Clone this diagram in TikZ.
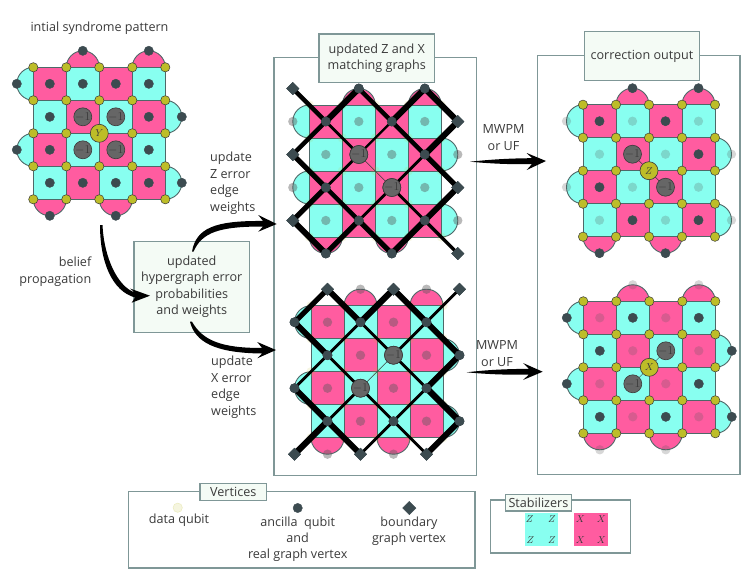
\documentclass[tikz,border=0pt]{standalone}
\usepackage{fontspec}
\setmainfont{Open Sans}
\usetikzlibrary{shapes.geometric}
\definecolor{pinkf}{HTML}{FF5CA0}
\definecolor{cyanf}{HTML}{88FFF0}
\definecolor{gridc}{HTML}{4E6868}
\definecolor{boxc}{HTML}{7F9797}
\definecolor{boxf}{HTML}{F4FBF5}
\definecolor{olive}{HTML}{BDBD28}
\definecolor{slate}{HTML}{3C4B50}
\definecolor{inkc}{HTML}{3A3A3A}
\tikzset{
  panelbox/.style={draw=boxc,line width=1.2pt},
  titlebox/.style={draw=boxc,line width=1.2pt,fill=boxf},
  gridline/.style={draw=gridc,line width=.9pt},
  dataq/.style={circle,draw=inkc,line width=.5pt,fill=olive,inner sep=0,minimum size=9.3pt},
  datafade/.style={circle,fill=olive,opacity=.13,inner sep=0,minimum size=9.3pt},
  ancdark/.style={circle,draw=slate,line width=.4pt,fill=slate,inner sep=0,minimum size=9.3pt},
  ancfade/.style={circle,fill=black!65,opacity=.24,inner sep=0,minimum size=9.3pt},
  bound/.style={diamond,aspect=1,draw=slate,line width=.4pt,fill=slate,inner sep=0,minimum size=12.5pt},
  minusone/.style={circle,draw=inkc,line width=.6pt,fill=black!60,text=inkc,inner sep=0,minimum size=18pt,font=\large},
  errq/.style={circle,draw=inkc,line width=.6pt,fill=olive,text=inkc,inner sep=0,minimum size=18pt},
  lbl/.style={text=inkc,align=center,inner sep=0,font=\fontsize{12.6}{16.4}\selectfont},
  lblleft/.style={lbl,align=left},
  stab/.style={text=inkc,inner sep=0,font=\normalsize},
  arrowfill/.style={fill=black,draw=none},
  link/.style={draw=black},
  thinlink/.style={draw=inkc,line width=.5pt}
}
\newcommand\faces{%
  \foreach \c in {1,3}{\draw[gridline,fill=pinkf] (\c,0) .. controls (\c,-.276) and ({\c+.224},-.5) .. ({\c+.5},-.5) .. controls ({\c+.776},-.5) and ({\c+1},-.276) .. ({\c+1},0);}
  \foreach \c in {0,2}{\draw[gridline,fill=pinkf] (\c,4) .. controls (\c,4.276) and ({\c+.224},4.5) .. ({\c+.5},4.5) .. controls ({\c+.776},4.5) and ({\c+1},4.276) .. ({\c+1},4);}
  \foreach \r in {0,2}{\draw[gridline,fill=cyanf] (0,\r) .. controls (-.276,\r) and (-.5,{\r+.224}) .. (-.5,{\r+.5}) .. controls (-.5,{\r+.776}) and (-.276,{\r+1}) .. (0,{\r+1});}
  \foreach \r in {1,3}{\draw[gridline,fill=cyanf] (4,\r) .. controls (4.276,\r) and (4.5,{\r+.224}) .. (4.5,{\r+.5}) .. controls (4.5,{\r+.776}) and (4.276,{\r+1}) .. (4,{\r+1});}
  \foreach \r in {0,...,3}{\foreach \c in {0,...,3}{%
    \ifodd\numexpr\r+\c\relax\def\fc{cyanf}\else\def\fc{pinkf}\fi
    \draw[gridline,fill=\fc] (\c,\r) rectangle ++(1,1);}}%
}
\newcommand\datas[1]{\foreach \r in {0,...,4}{\foreach \c in {0,...,4}{\node[#1] (d\r x\c) at (\c,\r) {};}}}
% #1 style of pink-side ancillas, #2 style of cyan-side ancillas, #3 name prefix
\newcommand\ancillas[3]{%
  \foreach \r in {0,...,3}{\foreach \c in {0,...,3}{%
    \ifodd\numexpr\r+\c\relax\def\as{#2}\else\def\as{#1}\fi
    \node[style=\as] (#3\r x\c) at ({\c+.5},{\r+.5}) {};}}
  \foreach \c in {1,3}{\node[#1] (#3-1x\c) at ({\c+.5},-.5) {};}
  \foreach \c in {0,2}{\node[#1] (#34x\c) at ({\c+.5},4.5) {};}
  \foreach \r in {0,2}{\node[#2] (#3\r x-1) at (-.5,{\r+.5}) {};}
  \foreach \r in {1,3}{\node[#2] (#3\r x4) at (4.5,{\r+.5}) {};}%
}
\newcommand\zbound{%
  \foreach \r/\c in {-1/-1,0/4,1/-1,2/4,3/-1,4/4}{\node[bound] (z\r x\c) at ({\c+.5},{\r+.5}) {};}%
  \node[minusone] (z1x1) at (1.5,1.5) {$-1$};
  \node[minusone] (z2x2) at (2.5,2.5) {$-1$};%
}
\newcommand\xbound{%
  \foreach \r/\c in {-1/0,-1/2,-1/4,4/-1,4/1,4/3}{\node[bound] (x\r x\c) at ({\c+.5},{\r+.5}) {};}%
  \node[minusone] (x1x2) at (2.5,1.5) {$-1$};
  \node[minusone] (x2x1) at (1.5,2.5) {$-1$};%
}
\begin{document}
\begin{tikzpicture}[x=1pt,y=-1pt]
\useasboundingbox (0,0) rectangle (748,587);
% panels
\draw[panelbox] (274,57.3) rectangle (476.5,475.5);
\draw[panelbox] (537.3,55.7) rectangle (740,474.5);
\node[titlebox,minimum width=115.7pt,minimum height=48.4pt,inner sep=0,anchor=north west] (ztitle) at (318.3,33.3) {};
\node[lbl] at (ztitle.center) {updated Z and X\\matching graphs};
\node[titlebox,minimum width=115.3pt,minimum height=48.7pt,inner sep=0,anchor=north west] (ctitle) at (583.7,31) {};
\node[lbl] at (ctitle.center) {correction output};

% panel 1: initial pattern
\node[lbl] (syn) at (99.5,28) {intial syndrome pattern};
\begin{scope}[shift={(33.3,67.3)},x=33pt,y=-33pt]
  \faces
  \ancillas{ancdark}{ancdark}{a}
  \node[minusone] (a1m) at (1.5,1.5) {$-1$};
  \node[minusone] (a2m) at (2.5,1.5) {$-1$};
  \node[minusone] (a3m) at (1.5,2.5) {$-1$};
  \node[minusone] (a4m) at (2.5,2.5) {$-1$};
  \datas{dataq}
  \node[errq] (aerr) at (2,2) {$Y$};
\end{scope}

% panel 2: Z matching graph
\begin{scope}[shift={(309.3,105)},x=33pt,y=-33pt]
  \faces
  \ancillas{ancdark}{ancfade}{z}
  \datas{datafade}
  \zbound
  \foreach \ra/\ca/\rb/\cb/\w in {
    -1/-1/0/0/4.5,-1/1/0/0/6,-1/1/0/2/4.5,-1/3/0/2/6,-1/3/0/4/6,
    0/0/1/-1/4.5,0/0/1/1/2.8,0/2/1/1/2.3,0/2/1/3/4.5,0/4/1/3/6,
    1/-1/2/0/5.2,1/1/2/0/2.8,1/3/2/2/2.8,1/3/2/4/5.2,
    2/0/3/-1/5.2,2/0/3/1/4.5,2/2/3/1/2.8,2/2/3/3/2.8,2/4/3/3/5.8,
    3/-1/4/0/5.8,3/1/4/0/5.2,3/1/4/2/5.2,3/3/4/2/5.8,3/3/4/4/3.4}{
    \draw[link,line width=\w pt] (z\ra x\ca.center) -- (z\rb x\cb.center);}
  \draw[thinlink] (z1x1) -- (z2x2);
  \ancillas{ancdark}{ancfade}{z}
  \zbound
\end{scope}

% panel 3: X matching graph
\begin{scope}[shift={(311,305.7)},x=33pt,y=-33pt]
  \faces
  \ancillas{ancfade}{ancdark}{x}
  \datas{datafade}
  \xbound
  \foreach \ra/\ca/\rb/\cb/\w in {
    -1/0/0/-1/5.2,-1/0/0/1/5.8,-1/2/0/1/6.3,-1/2/0/3/5.8,-1/4/0/3/2.8,
    0/-1/1/0/5.8,0/1/1/0/2.8,0/1/1/2/2.8,0/3/1/2/2.8,0/3/1/4/5.8,
    1/0/2/-1/2.8,1/0/2/1/2.8,1/2/2/3/2.8,1/4/2/3/5.8,
    2/-1/3/0/5.8,2/1/3/0/2.8,2/1/3/2/2.8,2/3/3/2/2.8,2/3/3/4/6.3,
    3/0/4/-1/6.3,3/0/4/1/5.8,3/2/4/1/2.8,3/2/4/3/2.8,3/4/4/3/5.8}{
    \draw[link,line width=\w pt] (x\ra x\ca.center) -- (x\rb x\cb.center);}
  \draw[thinlink] (x1x2) -- (x2x1);
  \ancillas{ancfade}{ancdark}{x}
  \xbound
\end{scope}

% panel 4: Z correction
\begin{scope}[shift={(583,104.7)},x=33pt,y=-33pt]
  \faces
  \ancillas{ancdark}{ancfade}{p}
  \datas{dataq}
  \node[minusone] (p1m) at (1.5,1.5) {$-1$};
  \node[minusone] (p2m) at (2.5,2.5) {$-1$};
  \draw[thinlink] (p1m) -- (p2m);
  \node[errq] (perr) at (2,2) {$Z$};
\end{scope}

% panel 5: X correction
\begin{scope}[shift={(583.3,301.3)},x=33pt,y=-33pt]
  \faces
  \ancillas{ancfade}{ancdark}{q}
  \datas{dataq}
  \node[minusone] (q1m) at (2.5,1.5) {$-1$};
  \node[minusone] (q2m) at (1.5,2.5) {$-1$};
  \draw[thinlink] (q1m) -- (q2m);
  \node[errq] (qerr) at (2,2) {$X$};
\end{scope}

% hypergraph box
\node[titlebox,minimum width=115.7pt,minimum height=91pt,inner sep=0,anchor=north west] (hyper) at (133.3,240.7) {};
\node[lbl] at (hyper.center) {updated\\hypergraph error\\probabilities\\and weights};

% labels
\node[lbl,align=right,anchor=east] at (91.5,271.8) {belief\\propagation};
\node[lblleft,anchor=west] at (210,183.3) {update\\Z error\\edge\\weights};
\node[lblleft,anchor=west] at (211,387.3) {update\\X error\\edge\\weights};
\node[lbl] at (503.5,137.5) {MWPM\\or UF};
\node[lbl] at (497,353.5) {MWPM\\or UF};

% tapered arrows
\coordinate (belA) at (101,225);
\coordinate (belB) at (150,295.7);
\fill[arrowfill] (belA) ++(1.5,0) .. controls (104,258) and (118,287) .. (135,292.5)
  -- (130,288.5) -- (belB) -- (131.7,302.7) -- (135,297.5) .. controls (112,291) and (100,262) .. (100,225) -- cycle;
\coordinate (zA) at (192.7,251.7);
\coordinate (zB) at (276.7,224);
\fill[arrowfill] (zA) ++(-.7,0) .. controls (196,228) and (215,220.5) .. (263,221)
  -- (258.3,215) -- (zB) -- (258.3,231.7) -- (263,226.5) .. controls (220,226.5) and (202,232) .. (193.5,251.7) -- cycle;
\coordinate (xA) at (190.7,321.7);
\coordinate (xB) at (276,350);
\fill[arrowfill] (xA) ++(-.7,0) .. controls (195,342) and (215,353) .. (262,353.5)
  -- (257.3,358.3) -- (xB) -- (257.3,342) -- (262,348) .. controls (222,348) and (203,341) .. (192,321.7) -- cycle;
\coordinate (mA) at (470,161.7);
\coordinate (mB) at (546,161);
\fill[arrowfill] (mA) .. controls (495,159) and (515,158.3) .. (532,158.2)
  -- (526.7,153) -- (mB) -- (526.7,170) -- (532,164) .. controls (515,164.5) and (495,164) .. (mA) -- cycle;
\coordinate (nA) at (466.7,372.3);
\coordinate (nB) at (542.7,371.7);
\fill[arrowfill] (nA) .. controls (490,369.5) and (510,369) .. (529,368.8)
  -- (523,363) -- (nB) -- (523,380) -- (529,374.5) .. controls (510,375) and (490,374.5) .. (nA) -- cycle;

% vertices legend
\draw[panelbox] (128.3,491.7) rectangle (475,568);
\node[titlebox,minimum width=66.7pt,minimum height=17pt,inner sep=0,anchor=north west] (vt) at (199.3,483) {};
\node[lbl] at (vt.center) {Vertices};
\node[circle,draw=olive!30,fill=olive!15,line width=.5pt,inner sep=0,minimum size=9.3pt] (legd) at (177.7,507.7) {};
\node[ancdark] (lega) at (297.7,508) {};
\node[bound,minimum size=13.5pt] (legb) at (409.3,508) {};
\node[lbl] at (179,520) {data qubit};
\node[lbl] at (297.7,539.2) {ancilla\ \ qubit\\and\\real graph vertex};
\node[lbl] at (409,531) {boundary\\graph vertex};

% stabilizers legend
\draw[panelbox] (490.7,500) rectangle (630.7,553);
\node[titlebox,minimum width=66.3pt,minimum height=16.6pt,inner sep=0,anchor=north west] (st) at (504.7,493.7) {};
\node[lbl] at (st.center) {Stabilizers};
\fill[cyanf] (524.7,512.7) rectangle (557.7,546);
\fill[pinkf] (574.3,512.7) rectangle (607.7,546);
\foreach \x/\y in {529.7/519.3,552/519.3,530.3/540,552/540}{\node[stab] at (\x,\y) {$Z$};}
\foreach \x/\y in {580.3/519.3,601.3/519.3,580.3/540,601.3/540}{\node[stab] at (\x,\y) {$X$};}
\end{tikzpicture}
\end{document}
